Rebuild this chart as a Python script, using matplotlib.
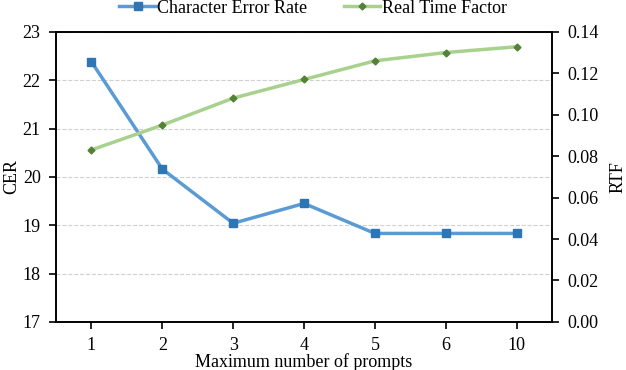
import numpy as np
import matplotlib.pyplot as plt

# ===========================
# Data
# ===========================

prompts = ["1", "2", "3", "4", "5", "6", "10"]
cer = [22.38, 20.16, 19.04, 19.45, 18.83, 18.83, 18.83]
rtf = [0.083, 0.095, 0.108, 0.117, 0.126, 0.130, 0.1328]

plt.rcParams["font.family"] = ["Liberation Serif", "DejaVu Serif"]
plt.rcParams["font.size"] = 13

# ===========================
# Plot
# ===========================

fig, ax = plt.subplots(figsize=(6.26, 3.70), dpi=100)
fig.subplots_adjust(left=0.0895, right=0.882, top=0.914, bottom=0.130)

x = np.arange(len(prompts))

l1, = ax.plot(x, cer, color="#5B9BD5", lw=2.5, marker="s", ms=6,
              mfc="#2E75B6", mec="#2E75B6", label="Character Error Rate", zorder=3)
ax.set_ylim(17, 23)
ax.set_xlim(-0.5, len(prompts) - 0.5)
ax.set_xticks(x)
ax.set_xticklabels(prompts)
ax.set_xlabel("Maximum number of prompts", labelpad=-1)
ax.set_ylabel("CER", labelpad=2)
ax.yaxis.grid(True, linestyle="--", color="#d0d0d0", lw=0.8)
ax.set_axisbelow(True)

ax2 = ax.twinx()
l2, = ax2.plot(x, rtf, color="#A9D18E", lw=2.5, marker="D", ms=3.5,
               mfc="#548235", mec="#548235", label="Real Time Factor", zorder=3)
ax2.set_ylim(0, 0.14)
ax2.set_yticks(np.arange(0, 0.141, 0.02))
ax2.yaxis.set_major_formatter(plt.FormatStrFormatter("%.2f"))
ax2.set_ylabel("RTF", labelpad=8)

for a in (ax, ax2):
    a.tick_params(direction="out", length=5, width=1.2, pad=6)
    for s in a.spines.values():
        s.set_linewidth(1.2)

fig.legend(handles=[l1, l2], loc="upper center", ncol=2, frameon=False,
           bbox_to_anchor=(0.5, 1.045), handlelength=2.0, columnspacing=2.0,
           handletextpad=0.1)

plt.savefig("out.png")
